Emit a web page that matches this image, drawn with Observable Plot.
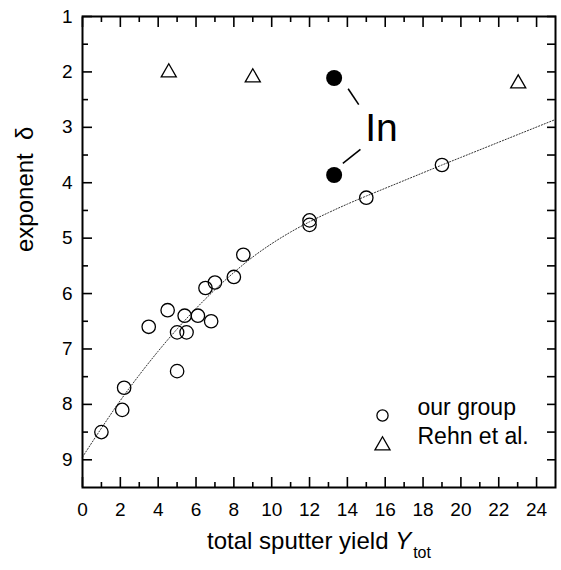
<!DOCTYPE html>
<html>
<head>
<meta charset="utf-8">
<script src="https://cdn.jsdelivr.net/npm/d3@7"></script>
<script src="https://cdn.jsdelivr.net/npm/@observablehq/plot@0.6"></script>
<style>
  html, body { margin: 0; padding: 0; background: white; }
  #chart svg { display: block; }
</style>
</head>
<body>
<div id="chart"></div>
<script>
// "our group" data (open circles)
const ourX = [1.0, 2.1, 2.2, 3.5, 4.5, 5.0, 5.0, 5.4, 5.5, 6.1, 6.5, 6.8, 7.0, 8.0, 8.5, 12.0, 12.0, 15.0, 19.0];
const ourY = [8.5, 8.1, 7.7, 6.6, 6.3, 6.7, 7.4, 6.4, 6.7, 6.4, 5.9, 6.5, 5.8, 5.7, 5.3, 4.68, 4.76, 4.27, 3.68];
// Rehn et al. (open triangles)
const rehnX = [4.56, 9.0, 23.03];
const rehnY = [2.01, 2.10, 2.21];
// In (filled circles)
const inX = [13.3, 13.3];
const inY = [2.11, 3.86];
// dotted fit curve
const fitX = [0, 1, 2, 3, 4, 5, 6, 7, 8, 9, 10, 11, 12, 13, 14, 15, 16, 17, 18, 19, 20, 22, 25];
const fitY = [8.95, 8.43, 7.93, 7.47, 7.04, 6.64, 6.27, 5.93, 5.62, 5.34, 5.10, 4.89, 4.705, 4.54, 4.385, 4.24, 4.10, 3.96, 3.82, 3.68, 3.543, 3.269, 2.858];
// "In" annotation and its connector strokes
const inLabel = [{x: 15.8, y: 3.02, text: "In"}];
const linkX1 = [14.04, 13.76], linkY1 = [2.305, 3.65];
const linkX2 = [14.6, 14.69], linkY2 = [2.59, 3.40];
// ticks
const xMajor = [0, 2, 4, 6, 8, 10, 12, 14, 16, 18, 20, 22, 24];
const xMinor = [1, 3, 5, 7, 9, 11, 13, 15, 17, 19, 21, 23];
const yMajor = [1, 2, 3, 4, 5, 6, 7, 8, 9];
const yMinor = [1.5, 2.5, 3.5, 4.5, 5.5, 6.5, 7.5, 8.5];
// legend
const legendLabels = ["our group", "Rehn et al."];

const ours = ourX.map((x, i) => ({x, y: ourY[i]}));
const rehn = rehnX.map((x, i) => ({x, y: rehnY[i]}));
const ins = inX.map((x, i) => ({x, y: inY[i]}));
const fit = fitX.map((x, i) => ({x, y: fitY[i]}));
const links = linkX1.map((x, i) => ({x1: x, y1: linkY1[i], x2: linkX2[i], y2: linkY2[i]}));

const tickStyle = {strokeWidth: 1.6, label: null, tickFormat: () => ""};
const fmt = d3.format("d");

const chart = Plot.plot({
  width: 561,
  height: 570,
  marginLeft: 82,
  marginRight: 6,
  marginTop: 16,
  marginBottom: 83,
  style: {fontFamily: "'Liberation Sans', Arial, sans-serif", background: "white", color: "black"},
  x: {domain: [0, 25]},
  y: {domain: [1, 9.5], reverse: true},
  marks: [
    // fit curve
    Plot.line(fit, {x: "x", y: "y", curve: "monotone-x", stroke: "#333", strokeWidth: 1, strokeDasharray: "1.2,1.8"}),
    // data
    Plot.dot(ours, {x: "x", y: "y", r: 6.7, stroke: "black", strokeWidth: 1.3, fill: "none"}),
    Plot.dot(rehn, {x: "x", y: "y", r: 5.6, symbol: "triangle", stroke: "black", strokeWidth: 1.3, fill: "none"}),
    Plot.dot(ins, {x: "x", y: "y", r: 8, fill: "black", stroke: "none"}),
    // In annotation
    Plot.link(links, {x1: "x1", y1: "y1", x2: "x2", y2: "y2", stroke: "black", strokeWidth: 1.6}),
    Plot.text(inLabel, {x: "x", y: "y", text: "text", fontSize: 39, fill: "black"}),
    // legend
    Plot.dot([legendLabels[0]], {frameAnchor: "bottom-right", dx: -173, dy: -72, r: 5.6, symbol: "circle", stroke: "black", strokeWidth: 1.3, fill: "none"}),
    Plot.dot([legendLabels[1]], {frameAnchor: "bottom-right", dx: -173, dy: -42, r: 5.6, symbol: "triangle", stroke: "black", strokeWidth: 1.3, fill: "none"}),
    Plot.text([legendLabels[0]], {frameAnchor: "bottom-right", dx: -138, dy: -73, text: d => d, textAnchor: "start", fontSize: 23, fill: "black"}),
    Plot.text([legendLabels[1]], {frameAnchor: "bottom-right", dx: -138, dy: -44, text: d => d, textAnchor: "start", fontSize: 23, fill: "black"}),
    // tick labels
    Plot.axisX(xMajor, {anchor: "bottom", tickSize: 0, tickPadding: 15, fontSize: 19, label: null, fill: "black", tickFormat: fmt}),
    Plot.axisY(yMajor, {anchor: "left", tickSize: 0, tickPadding: 10, fontSize: 19, label: null, fill: "black", tickFormat: fmt}),
    // inward ticks
    Plot.axisX(xMajor, {anchor: "bottom", tickSize: -10, ...tickStyle}),
    Plot.axisX(xMinor, {anchor: "bottom", tickSize: -5, ...tickStyle}),
    Plot.axisX(xMajor, {anchor: "top", tickSize: -10, ...tickStyle}),
    Plot.axisX(xMinor, {anchor: "top", tickSize: -5, ...tickStyle}),
    Plot.axisY(yMajor, {anchor: "left", tickSize: -10, ...tickStyle}),
    Plot.axisY(yMinor, {anchor: "left", tickSize: -6, ...tickStyle}),
    Plot.axisY(yMajor, {anchor: "right", tickSize: -9, ...tickStyle}),
    Plot.axisY(yMinor, {anchor: "right", tickSize: -9, ...tickStyle}),
    // axis titles
    Plot.text(["exponent  δ"], {frameAnchor: "left", dx: -57, rotate: -90, fontSize: 24, fill: "black"}),
    Plot.text(["total sputter yield Ytot"], {frameAnchor: "bottom", dy: 61, lineAnchor: "bottom", fontSize: 24, fill: "black"}),
    Plot.frame({stroke: "black", strokeWidth: 2})
  ]
});

// style the x title: italic Y with subscript "tot"
d3.select(chart).selectAll("text").filter(function () {
  return this.textContent === "total sputter yield Ytot";
}).each(function () {
  const t = d3.select(this);
  t.text(null);
  t.append("tspan").text("total sputter yield ");
  t.append("tspan").attr("font-style", "italic").text("Y");
  t.append("tspan").attr("font-size", 16).attr("dy", 9).attr("dx", 2).text("tot");
});

document.getElementById("chart").appendChild(chart);
</script>
</body>
</html>
